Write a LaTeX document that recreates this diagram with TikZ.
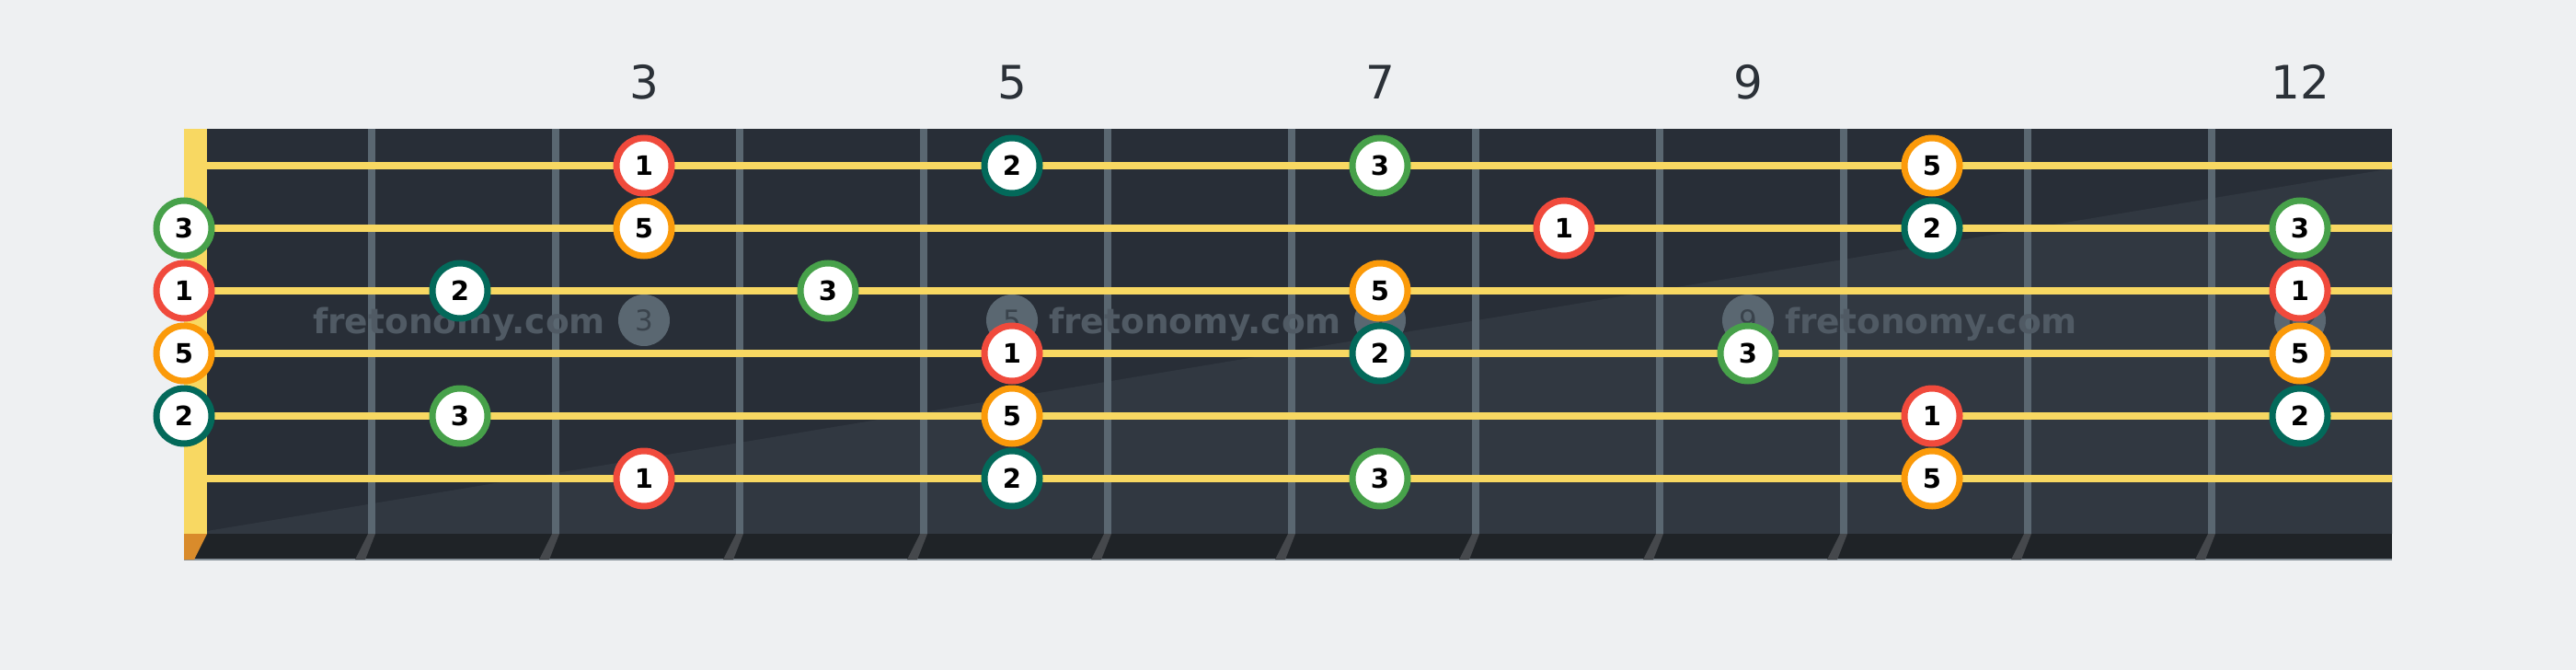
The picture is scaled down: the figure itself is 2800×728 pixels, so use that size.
\documentclass[tikz,border=0pt]{standalone}
\usepackage{fontspec}
\setmainfont{DejaVu Sans}
\definecolor{bg}{HTML}{EEF0F2}
\definecolor{boardA}{HTML}{282E37}
\definecolor{boardB}{HTML}{313841}
\definecolor{stripc}{HTML}{1F2327}
\definecolor{fretc}{HTML}{5A6771}
\definecolor{fretb}{HTML}{45484C}
\definecolor{strc}{HTML}{F8D862}
\definecolor{nutc}{HTML}{F8D862}
\definecolor{nutb}{HTML}{D98B2B}
\definecolor{cred}{HTML}{F04A3C}
\definecolor{corange}{HTML}{FB9A0A}
\definecolor{cgreen}{HTML}{47A14A}
\definecolor{cteal}{HTML}{03695A}
\definecolor{wmc}{HTML}{505A64}
\definecolor{markc}{HTML}{5A6771}
\definecolor{markt}{HTML}{3A434C}
\definecolor{numc}{HTML}{2B3138}
\tikzset{
  note/.style={circle, draw, line width=7pt, fill=white, minimum size=60pt, inner sep=0pt,
    font=\fontsize{29}{29}\selectfont\bfseries, text=black},
  nr/.style={note, draw=cred},
  no/.style={note, draw=corange},
  ng/.style={note, draw=cgreen},
  nt/.style={note, draw=cteal},
  marker/.style={circle, fill=markc, minimum size=56pt, inner sep=0pt,
    font=\fontsize{31}{31}\selectfont, text=markt},
  wmark/.style={anchor=base, inner sep=0pt, font=\fontsize{37.5}{37.5}\selectfont\bfseries, text=wmc},
  fretnum/.style={anchor=base, inner sep=0pt, font=\fontsize{50}{50}\selectfont, text=numc}
}
\begin{document}
\begin{tikzpicture}[x=1pt,y=-1pt]
\fill[bg] (0,0) rectangle (2800,728);
\useasboundingbox (0,0) rectangle (2800,728);
% board
\fill[boardA] (200,140) rectangle (2600,580);
\fill[boardB] (225,577) -- (2600,183) -- (2600,580) -- (225,580) -- cycle;
\fill[stripc] (200,580) rectangle (2600,608);
\draw[line width=1.5pt, color=fretc!70!bg] (200,608) -- (2600,608);
% frets
\foreach \k in {1,...,11} {
  \fill[fretc] ({200+200*\k},140) rectangle ({208+200*\k},580);
  \fill[fretb] ({200+200*\k},580) -- ({208+200*\k},580) -- ({197+200*\k},608) -- ({186+200*\k},608) -- cycle;
}
% nut
\fill[nutc] (200,140) rectangle (225,580);
\fill[nutb] (200,580) -- (225,580) -- (211,608) -- (200,608) -- cycle;
% fret markers and watermark
\foreach \f in {3,5,7,9,12} {
  \node[marker] (m\f) at ({100+200*\f},348) {\f};
}
\node[wmark] (w1) at (499,362.5) {fretonomy.com};
\node[wmark] (w2) at (1299,362.5) {fretonomy.com};
\node[wmark] (w3) at (2099,362.5) {fretonomy.com};
% strings
\foreach \y in {180,248,316,384,452,520} {
  \fill[strc] (225,{\y-4}) rectangle (2600,{\y+4});
}
% fret numbers
\node[fretnum] (f3) at (700,107) {3};
\node[fretnum] (f5) at (1100,107) {5};
\node[fretnum] (f7) at (1500,107) {7};
\node[fretnum] (f9) at (1900,107) {9};
\node[fretnum] (f12) at (2500,107) {12};
% string 1
\node[nr] (a3) at (700,180) {1};
\node[nt] (a5) at (1100,180) {2};
\node[ng] (a7) at (1500,180) {3};
\node[no] (a10) at (2100,180) {5};
% string 2
\node[ng] (b0) at (200,248) {3};
\node[no] (b3) at (700,248) {5};
\node[nr] (b8) at (1700,248) {1};
\node[nt] (b10) at (2100,248) {2};
\node[ng] (b12) at (2500,248) {3};
% string 3
\node[nr] (c0) at (200,316) {1};
\node[nt] (c2) at (500,316) {2};
\node[ng] (c4) at (900,316) {3};
\node[no] (c7) at (1500,316) {5};
\node[nr] (c12) at (2500,316) {1};
% string 4
\node[no] (d0) at (200,384) {5};
\node[nr] (d5) at (1100,384) {1};
\node[nt] (d7) at (1500,384) {2};
\node[ng] (d9) at (1900,384) {3};
\node[no] (d12) at (2500,384) {5};
% string 5
\node[nt] (e0) at (200,452) {2};
\node[ng] (e2) at (500,452) {3};
\node[no] (e5) at (1100,452) {5};
\node[nr] (e10) at (2100,452) {1};
\node[nt] (e12) at (2500,452) {2};
% string 6
\node[nr] (g3) at (700,520) {1};
\node[nt] (g5) at (1100,520) {2};
\node[ng] (g7) at (1500,520) {3};
\node[no] (g10) at (2100,520) {5};
\end{tikzpicture}
\end{document}
